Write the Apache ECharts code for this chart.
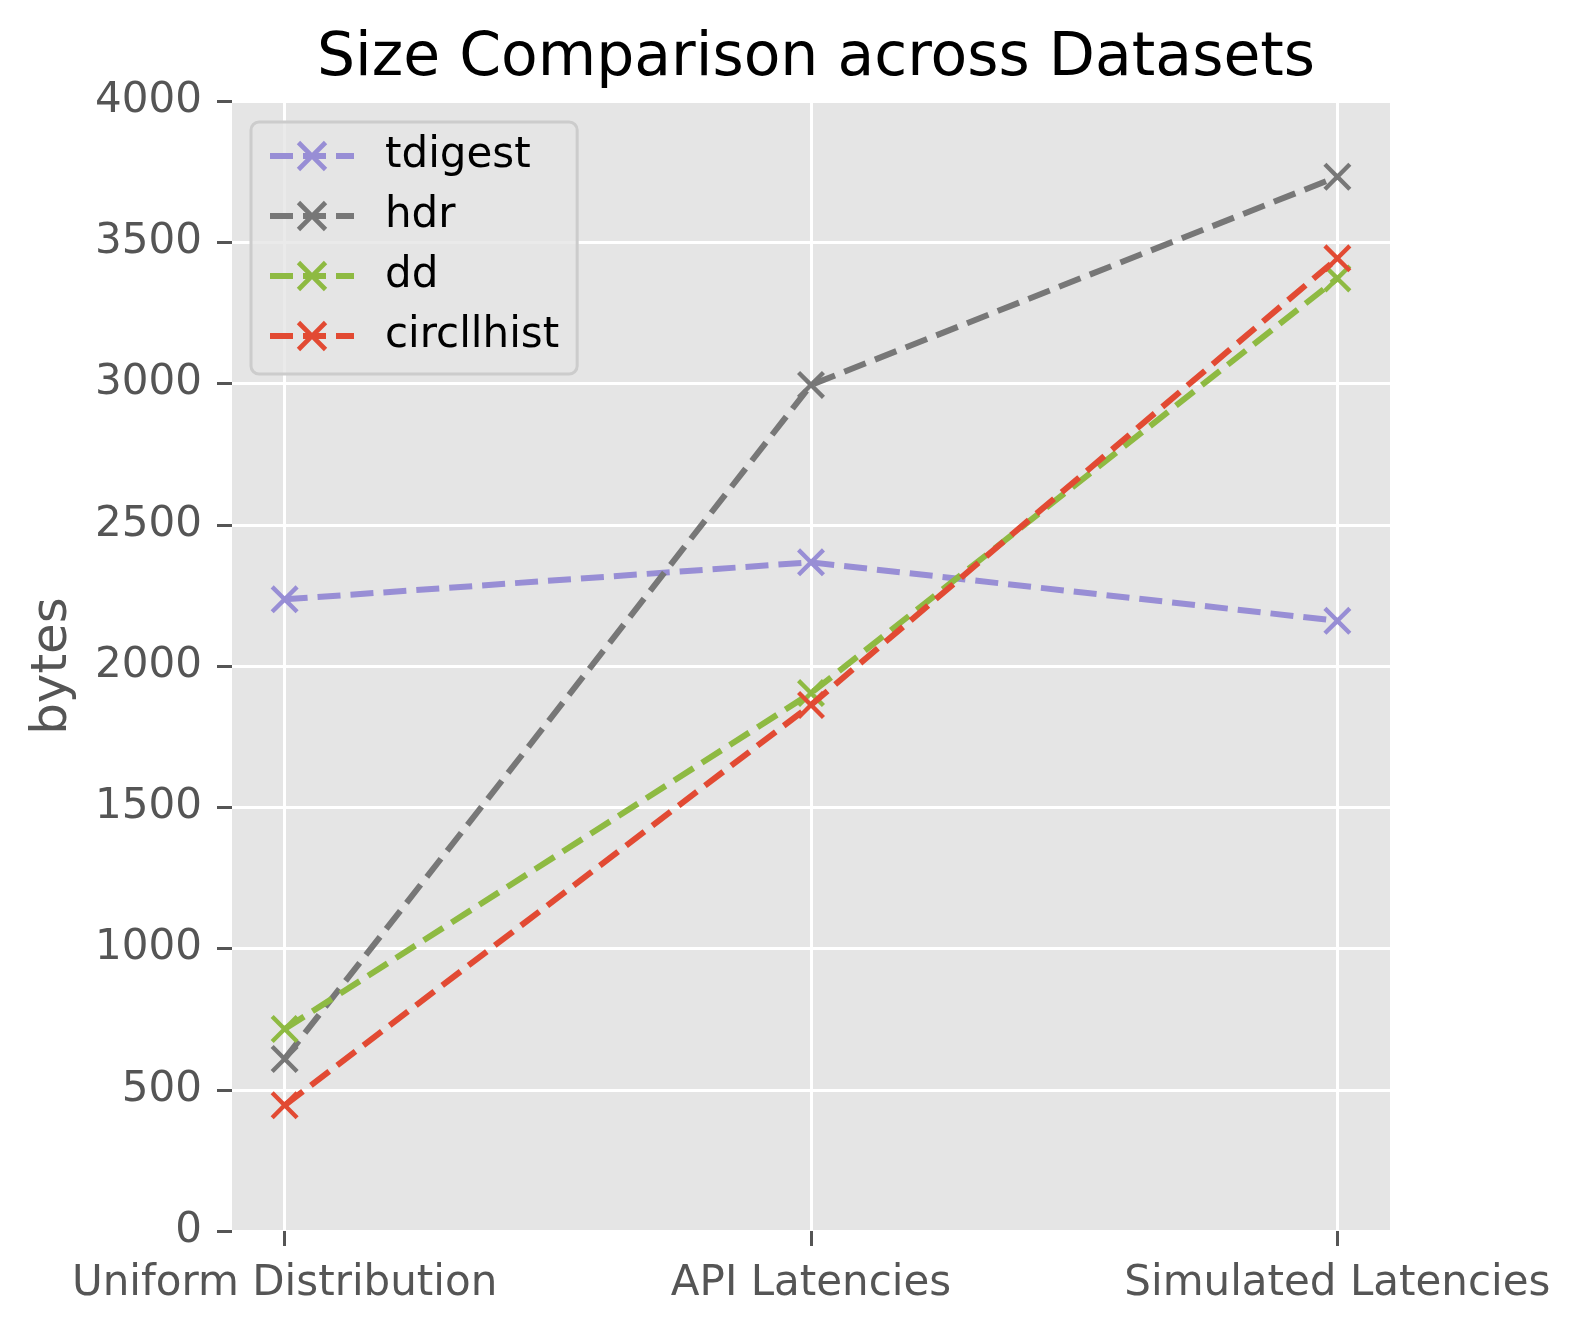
<!DOCTYPE html>
<html>
<head>
<meta charset="utf-8">
<script src="https://cdn.jsdelivr.net/npm/echarts@6/dist/echarts.min.js"></script>
<style>
html,body{margin:0;padding:0;background:#fff;}
#chart{width:1580px;height:1332px;}
</style>
</head>
<body>
<div id="chart"></div>
<script>
const categories = ['Uniform Distribution', 'API Latencies', 'Simulated Latencies'];
const seriesNames = ['tdigest', 'hdr', 'dd', 'circllhist'];
const tdigest = [2236, 2367, 2160];
const hdr = [609, 2995, 3732];
const dd = [715, 1904, 3372];
const circllhist = [445, 1862, 3443];
const yTicks = [0, 500, 1000, 1500, 2000, 2500, 3000, 3500, 4000];
const colors = ['#988ED5', '#777777', '#8EBA42', '#E24A33'];

const values = [tdigest, hdr, dd, circllhist];
const xSymbol = 'path://M0,11 L11,0 L50,39 L89,0 L100,11 L61,50 L100,89 L89,100 L50,61 L11,100 L0,89 L39,50 Z';
const font = 'DejaVu Sans';

const chart = echarts.init(document.getElementById('chart'), null, {renderer: 'canvas'});
const series = seriesNames.map((name, i) => ({
  name: name,
  type: 'line',
  data: values[i].map((v, j) => [j, v]),
  symbol: xSymbol,
  symbolSize: 28,
  showSymbol: true,
  lineStyle: {color: colors[i], width: 6, type: [23, 10]},
  itemStyle: {color: colors[i], borderWidth: 0},
  emphasis: {disabled: true},
  animation: false,
  z: 2 + i
}));

chart.setOption({
  backgroundColor: '#ffffff',
  animation: false,
  textStyle: {fontFamily: font},
  title: {
    text: 'Size Comparison across Datasets',
    left: 811,
    top: 24,
    textAlign: 'center',
    textStyle: {fontFamily: font, fontSize: 60, fontWeight: 'normal', color: '#000000'}
  },
  grid: {
    left: 232, right: 190, top: 101, bottom: 101,
    show: true, backgroundColor: '#E5E5E5', borderWidth: 0,
    containLabel: false
  },
  legend: {
    data: seriesNames,
    orient: 'vertical',
    left: 251,
    top: 122,
    itemWidth: 84,
    itemHeight: 38,
    itemGap: 18,
    padding: [13, 18, 17, 16],
    backgroundColor: 'rgba(229,229,229,0.8)',
    borderColor: '#CCCCCC',
    borderWidth: 3,
    borderRadius: 8,
    lineStyle: {width: 6, type: [23, 10]},
    textStyle: {fontFamily: font, fontSize: 42, color: '#000000', padding: [0, 0, 0, 26]}
  },
  xAxis: {
    type: 'value',
    min: -0.1,
    max: 2.1,
    axisLine: {show: false, onZero: false},
    axisTick: {show: true, length: 15, lineStyle: {color: '#555555', width: 3}, customValues: [0, 1, 2]},
    axisLabel: {
      customValues: [0, 1, 2],
      formatter: v => categories[Math.round(v)],
      fontFamily: font, fontSize: 42, color: '#555555', margin: 32
    },
    splitLine: {show: true, lineStyle: {color: '#ffffff', width: 3}}
  },
  yAxis: {
    type: 'value',
    min: 0,
    max: 4000,
    interval: 500,
    name: 'bytes',
    nameLocation: 'middle',
    nameGap: 154,
    nameTextStyle: {fontFamily: font, fontSize: 50, color: '#555555'},
    axisLine: {show: false, onZero: false},
    axisTick: {show: true, length: 15, lineStyle: {color: '#555555', width: 3}},
    axisLabel: {
      fontFamily: font, fontSize: 42, color: '#555555', margin: 30,
      formatter: v => (yTicks.indexOf(v) >= 0 ? String(v) : '')
    },
    splitLine: {show: true, lineStyle: {color: '#ffffff', width: 3}}
  },
  series: series
});
</script>
</body>
</html>
